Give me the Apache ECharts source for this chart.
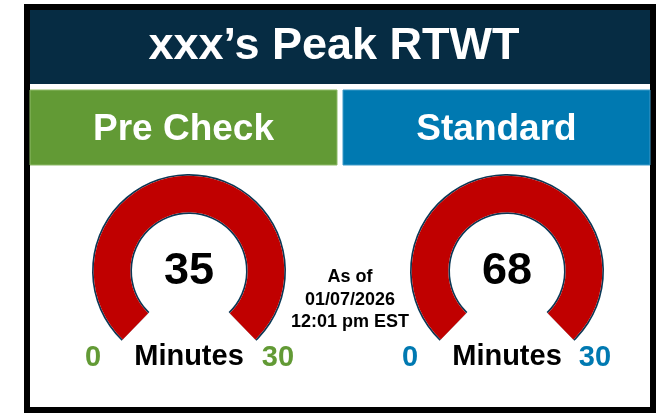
<!DOCTYPE html>
<html>
<head>
<meta charset="utf-8">
<script src="https://cdn.jsdelivr.net/npm/echarts@6/dist/echarts.min.js"></script>
<style>
html,body{margin:0;padding:0;background:#fff;}
#chart{width:659px;height:413px;}
</style>
</head>
<body>
<div id="chart"></div>
<script>
// ---- data ----
const titleText = 'xxx\u2019s Peak RTWT';
const panelNames = ['Pre Check', 'Standard'];
const peakValues = [35, 68];
const gaugeMin = [0, 0];
const gaugeMax = [30, 30];
const unitLabel = 'Minutes';
const asOfLines = ['As of', '01/07/2026', '12:01 pm EST'];

// ---- styling ----
const FONT = '"Liberation Sans", Arial, Helvetica, sans-serif';
const NAVY = '#062C43';
const RING_NAVY = '#0B3855';
const RED = '#C00000';
const panelColors = ['#629A35', '#0079B1'];
const panelRects = [{x: 30, y: 90, w: 307, h: 75}, {x: 343, y: 90, w: 307, h: 75}];
const gaugeCenters = [[189, 271], [507, 271]];
const minLabelDx = [-96, -97];
const maxLabelDx = [89, 88];

const chart = echarts.init(document.getElementById('chart'), null, {renderer: 'canvas'});

const graphics = [];
// outer black frame
graphics.push({type: 'rect', shape: {x: 27, y: 7, width: 626, height: 403},
  style: {fill: '#fff', stroke: '#000', lineWidth: 6}, z: 0});
// header
graphics.push({type: 'rect', shape: {x: 30, y: 10, width: 620, height: 74},
  style: {fill: NAVY}, z: 1});
graphics.push({type: 'text', x: 334, y: 47, z: 5,
  style: {text: titleText, fill: '#fff', font: 'bold 45px ' + FONT, textAlign: 'center', textVerticalAlign: 'middle'}});
// panels
panelNames.forEach((name, i) => {
  const r = panelRects[i];
  graphics.push({type: 'rect', shape: {x: r.x, y: r.y, width: r.w, height: r.h},
    style: {fill: panelColors[i], stroke: i === 0 ? '#8DBA68' : '#3E9BC8', lineWidth: 1}, z: 1});
  graphics.push({type: 'text', x: r.x + r.w / 2, y: 130, z: 5,
    style: {text: name, fill: '#fff', font: 'bold 37px ' + FONT, textAlign: 'center', textVerticalAlign: 'middle'}});
  // min / max labels
  const c = gaugeCenters[i];
  graphics.push({type: 'text', x: c[0] + minLabelDx[i], y: 358, z: 5,
    style: {text: String(gaugeMin[i]), fill: panelColors[i], font: 'bold 29px ' + FONT, textAlign: 'center', textVerticalAlign: 'middle'}});
  graphics.push({type: 'text', x: c[0] + maxLabelDx[i], y: 358, z: 5,
    style: {text: String(gaugeMax[i]), fill: panelColors[i], font: 'bold 29px ' + FONT, textAlign: 'center', textVerticalAlign: 'middle'}});
});
// as-of text
graphics.push({type: 'text', x: 350, y: 300, z: 5,
  style: {text: asOfLines.join('\n'), fill: '#000', font: 'bold 18px ' + FONT, textAlign: 'center', textVerticalAlign: 'middle', lineHeight: 22.5}});

const START = 226, END = -46;
const series = [];
peakValues.forEach((v, i) => {
  const c = gaugeCenters[i];
  // navy outline ring
  series.push({
    type: 'gauge', center: c, radius: 97, startAngle: START, endAngle: END,
    min: gaugeMin[i], max: gaugeMax[i], silent: true, z: 2,
    axisLine: {show: true, lineStyle: {width: 40, color: [[1, RING_NAVY]]}},
    progress: {show: false}, pointer: {show: false}, anchor: {show: false},
    axisTick: {show: false}, splitLine: {show: false}, axisLabel: {show: false},
    title: {show: false}, detail: {show: false},
    data: [{value: gaugeMin[i]}]
  });
  // value ring
  series.push({
    type: 'gauge', center: c, radius: 95.3, startAngle: START, endAngle: END,
    min: gaugeMin[i], max: gaugeMax[i], silent: true, z: 3,
    axisLine: {show: true, lineStyle: {width: 36.6, color: [[1, '#FFFFFF']]}},
    progress: {show: true, width: 36.6, roundCap: false, clip: true, itemStyle: {color: RED}},
    pointer: {show: false}, anchor: {show: false},
    axisTick: {show: false}, splitLine: {show: false}, axisLabel: {show: false},
    title: {show: true, offsetCenter: [0, 86], color: '#000', fontSize: 29, fontWeight: 'bold', fontFamily: FONT},
    detail: {show: true, offsetCenter: [0, 1], color: '#000', fontSize: 45, fontWeight: 'bold', fontFamily: FONT,
      formatter: '{value}', valueAnimation: false},
    data: [{value: v, name: unitLabel}]
  });
});

chart.setOption({
  animation: false,
  backgroundColor: '#fff',
  graphic: {elements: graphics},
  series: series
});
</script>
</body>
</html>
